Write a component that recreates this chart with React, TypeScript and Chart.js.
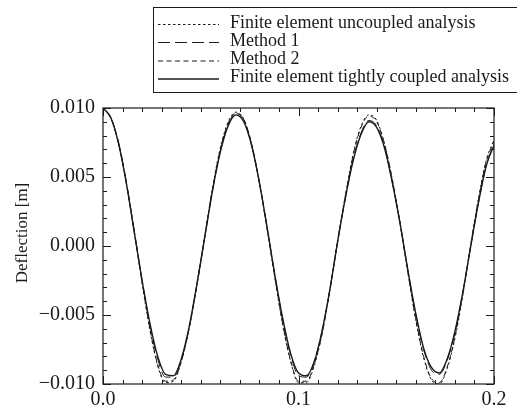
import React, { useEffect, useRef } from "react";
import { Chart, registerables } from "chart.js";

Chart.register(...registerables);

// Time [s] sample positions
const timeValues = [
  0, 0.004, 0.008, 0.012, 0.016, 0.02, 0.024, 0.028, 0.032, 0.036, 0.04, 0.044, 0.048, 0.052,
  0.056, 0.06, 0.064, 0.068, 0.072, 0.076, 0.08, 0.084, 0.088, 0.092, 0.096, 0.1, 0.104, 0.108,
  0.112, 0.116, 0.12, 0.124, 0.128, 0.132, 0.136, 0.14, 0.144, 0.148, 0.152, 0.156, 0.16, 0.164,
  0.168, 0.172, 0.176, 0.18, 0.184, 0.188, 0.192, 0.196, 0.2,
];

const uncoupled = [
  0.0100, 0.0093, 0.0074, 0.0045, 0.0010, -0.0027, -0.0061, -0.0087, -0.0099, -0.0098, -0.0084, -0.0060, -0.0028, 0.0007,
  0.0042, 0.0071, 0.0090, 0.0097, 0.0092, 0.0074, 0.0046, 0.0012, -0.0024, -0.0058, -0.0084, -0.0099, -0.0099, -0.0087,
  -0.0064, -0.0032, 0.0004, 0.0037, 0.0067, 0.0087, 0.0095, 0.0091, 0.0074, 0.0048, 0.0016, -0.0020, -0.0054, -0.0081,
  -0.0097, -0.0100, -0.0089, -0.0067, -0.0036, 0.0000, 0.0034, 0.0062, 0.0077,
];

const method1 = [
  0.0100, 0.0093, 0.0075, 0.0046, 0.0011, -0.0025, -0.0057, -0.0082, -0.0095, -0.0095, -0.0083, -0.0060, -0.0028, 0.0006,
  0.0040, 0.0069, 0.0088, 0.0096, 0.0091, 0.0073, 0.0046, 0.0013, -0.0022, -0.0054, -0.0079, -0.0094, -0.0095, -0.0084,
  -0.0062, -0.0032, 0.0003, 0.0035, 0.0063, 0.0082, 0.0091, 0.0087, 0.0072, 0.0046, 0.0016, -0.0018, -0.0050, -0.0075,
  -0.0090, -0.0093, -0.0083, -0.0063, -0.0034, -0.0001, 0.0031, 0.0058, 0.0074,
];

const method2 = [
  0.0100, 0.0093, 0.0074, 0.0045, 0.0010, -0.0026, -0.0060, -0.0086, -0.0098, -0.0097, -0.0084, -0.0060, -0.0029, 0.0006,
  0.0041, 0.0070, 0.0089, 0.0096, 0.0092, 0.0074, 0.0046, 0.0012, -0.0023, -0.0057, -0.0083, -0.0098, -0.0098, -0.0086,
  -0.0064, -0.0032, 0.0003, 0.0036, 0.0066, 0.0086, 0.0094, 0.0090, 0.0074, 0.0048, 0.0016, -0.0019, -0.0053, -0.0080,
  -0.0096, -0.0099, -0.0088, -0.0066, -0.0035, 0.0000, 0.0033, 0.0061, 0.0076,
];

const tightlyCoupled = [
  0.0100, 0.0093, 0.0074, 0.0045, 0.0010, -0.0025, -0.0056, -0.0080, -0.0093, -0.0094, -0.0082, -0.0059, -0.0028, 0.0006,
  0.0040, 0.0068, 0.0087, 0.0095, 0.0090, 0.0073, 0.0046, 0.0013, -0.0022, -0.0053, -0.0078, -0.0092, -0.0094, -0.0084,
  -0.0062, -0.0032, 0.0003, 0.0035, 0.0062, 0.0081, 0.0090, 0.0086, 0.0071, 0.0046, 0.0016, -0.0018, -0.0049, -0.0074,
  -0.0088, -0.0092, -0.0082, -0.0062, -0.0034, -0.0001, 0.0031, 0.0058, 0.0073,
];

const seriesLabels = [
  "Finite element uncoupled analysis",
  "Method 1",
  "Method 2",
  "Finite element tightly coupled analysis",
];

const xTickLabels = ["0.0", "0.1", "0.2"];
const yTickLabels = ["0.010", "0.005", "0.000", "\u22120.005", "\u22120.010"];
const yAxisTitle = "Deflection [m]";

const FONT = "'Liberation Serif', 'Times New Roman', serif";
const INK = "#1a1a1a";

export default function App() {
  const canvasRef = useRef<HTMLCanvasElement | null>(null);

  useEffect(() => {
    document.body.style.margin = "0";
    const canvas = canvasRef.current;
    if (!canvas) return;

    const styles = [
      { dash: [2.5, 2.5], width: 1 },
      { dash: [12, 5], width: 1 },
      { dash: [5, 3.5], width: 1 },
      { dash: [], width: 1.4 },
    ];
    const allSeries = [uncoupled, method1, method2, tightlyCoupled];

    const datasets = allSeries.map((vals, i) => ({
      label: seriesLabels[i],
      data: vals.map((v, j) => ({ x: timeValues[j], y: v })),
      borderColor: INK,
      borderWidth: styles[i].width,
      borderDash: styles[i].dash,
      pointRadius: 0,
      fill: false,
      tension: 0.4,
      cubicInterpolationMode: "monotone" as const,
    }));

    const framePlugin = {
      id: "framePlugin",
      afterDraw(chart: any) {
        const ctx = chart.ctx;
        const ca = chart.chartArea;
        const xs = chart.scales.x;
        const ys = chart.scales.y;
        ctx.save();
        ctx.strokeStyle = INK;
        ctx.lineWidth = 1.2;
        ctx.setLineDash([]);
        ctx.strokeRect(ca.left, ca.top, ca.right - ca.left, ca.bottom - ca.top);

        ctx.lineWidth = 1;
        // x ticks every 0.01, major every 0.1
        for (let k = 0; k <= 20; k++) {
          const v = k * 0.01;
          const px = Math.round(xs.getPixelForValue(v)) + 0.5;
          const len = k % 10 === 0 ? 8 : 4;
          ctx.beginPath();
          ctx.moveTo(px, ca.bottom);
          ctx.lineTo(px, ca.bottom - len);
          ctx.moveTo(px, ca.top);
          ctx.lineTo(px, ca.top + len);
          ctx.stroke();
        }
        // y ticks every 0.001, major every 0.005
        for (let k = -10; k <= 10; k++) {
          const v = k * 0.001;
          const py = Math.round(ys.getPixelForValue(v)) + 0.5;
          const len = k % 5 === 0 ? 8 : 4;
          ctx.beginPath();
          ctx.moveTo(ca.left, py);
          ctx.lineTo(ca.left + len, py);
          ctx.moveTo(ca.right, py);
          ctx.lineTo(ca.right - len, py);
          ctx.stroke();
        }

        // y axis title
        ctx.fillStyle = INK;
        ctx.font = `17px ${FONT}`;
        ctx.textAlign = "center";
        ctx.textBaseline = "middle";
        ctx.translate(23, 233);
        ctx.rotate(-Math.PI / 2);
        ctx.fillText(yAxisTitle, 0, 0);
        ctx.restore();

        // legend
        ctx.save();
        ctx.strokeStyle = INK;
        ctx.lineWidth = 1;
        ctx.strokeRect(153.5, 7.5, 370, 85);
        ctx.font = `18px ${FONT}`;
        ctx.fillStyle = INK;
        ctx.textAlign = "left";
        ctx.textBaseline = "middle";
        const rowY = [24, 42, 60.5, 78.5];
        chart.data.datasets.forEach((ds: any, i: number) => {
          ctx.setLineDash(ds.borderDash || []);
          ctx.lineWidth = ds.borderWidth;
          ctx.beginPath();
          ctx.moveTo(158, rowY[i] + 0.5);
          ctx.lineTo(219, rowY[i] + 0.5);
          ctx.stroke();
          ctx.setLineDash([]);
          ctx.fillText(ds.label, 230, rowY[i] - 1);
        });
        ctx.restore();
      },
    };

    const chart = new Chart(canvas, {
      type: "line",
      data: { datasets },
      options: {
        animation: false,
        responsive: false,
        maintainAspectRatio: false,
        layout: { padding: { top: 108, right: 23, left: 0, bottom: 0 } },
        plugins: { legend: { display: false }, tooltip: { enabled: false } },
        scales: {
          x: {
            type: "linear",
            min: 0,
            max: 0.2,
            grid: { display: false, drawTicks: false },
            border: { display: false },
            afterFit: (scale: any) => { scale.height = 31; },
            ticks: {
              stepSize: 0.1,
              padding: 4,
              maxRotation: 0,
              color: INK,
              font: { family: FONT, size: 20 },
              callback: (v: any) => {
                const idx = Math.round(Number(v) / 0.1);
                return xTickLabels[idx] ?? "";
              },
            },
          },
          y: {
            type: "linear",
            min: -0.01,
            max: 0.01,
            grid: { display: false, drawTicks: false },
            border: { display: false },
            afterFit: (scale: any) => { scale.width = 103; },
            ticks: {
              stepSize: 0.005,
              padding: 8,
              color: INK,
              font: { family: FONT, size: 20 },
              callback: (v: any) => {
                const idx = Math.round((0.01 - Number(v)) / 0.005);
                return yTickLabels[idx] ?? "";
              },
            },
          },
        },
      },
      plugins: [framePlugin],
    });

    return () => chart.destroy();
  }, []);

  return (
    <div style={{ width: 517, height: 415, background: "#fff" }}>
      <canvas ref={canvasRef} width={517} height={415} style={{ display: "block" }} />
    </div>
  );
}
